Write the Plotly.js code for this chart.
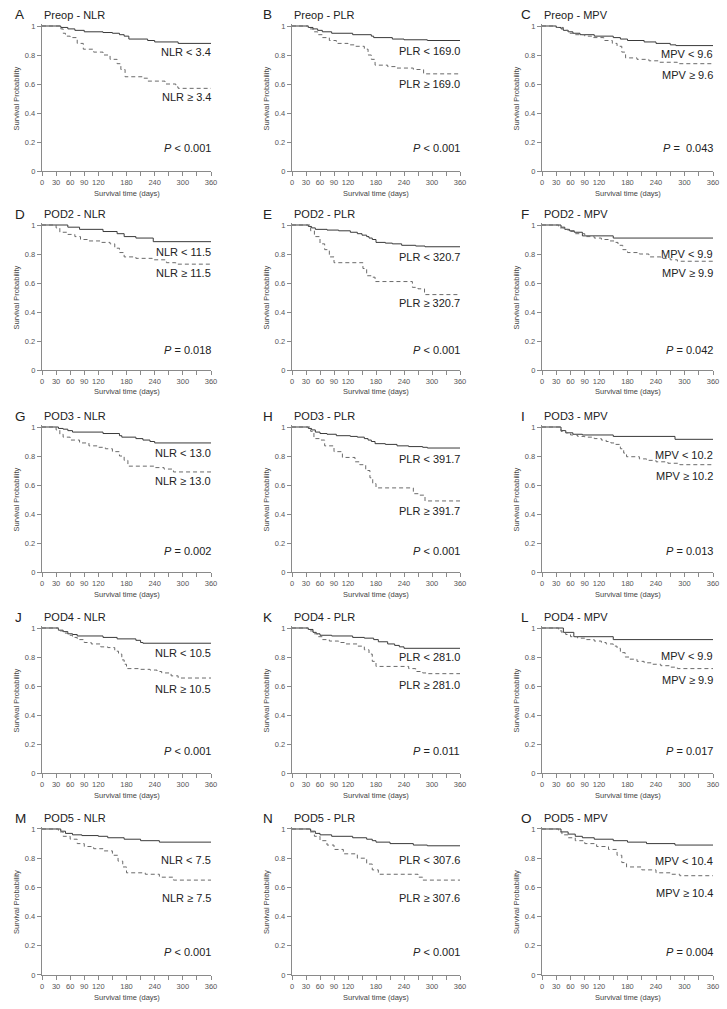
<!DOCTYPE html>
<html><head><meta charset="utf-8">
<script src="https://cdn.plot.ly/plotly-3.0.1.min.js"></script>
<style>html,body{margin:0;padding:0;background:#fff;}#chart{width:727px;height:1009px;}</style>
</head><body><div id="chart"></div>
<script>
// ---------- DATA: [time (days), survival probability] step points ----------
const A_low  = [[0,1],[40,0.99],[55,0.98],[70,0.97],[90,0.96],[130,0.955],[150,0.95],[165,0.94],[175,0.93],[185,0.91],[225,0.90],[240,0.89],[290,0.88],[360,0.88]];
const A_high = [[0,1],[40,0.98],[45,0.95],[50,0.93],[60,0.92],[75,0.88],[88,0.84],[110,0.82],[130,0.80],[145,0.77],[160,0.74],[168,0.70],[177,0.65],[215,0.64],[225,0.62],[262,0.60],[285,0.58],[290,0.57],[360,0.57]];
const B_low  = [[0,1],[35,0.99],[45,0.98],[55,0.97],[65,0.96],[85,0.95],[130,0.94],[170,0.93],[175,0.92],[215,0.91],[240,0.905],[290,0.90],[360,0.90]];
const B_high = [[0,1],[35,0.98],[45,0.96],[55,0.94],[65,0.92],[80,0.90],[95,0.88],[120,0.87],[135,0.86],[155,0.84],[163,0.80],[170,0.77],[178,0.73],[205,0.72],[225,0.71],[260,0.70],[282,0.67],[360,0.67]];
const C_low  = [[0,1],[30,0.99],[40,0.98],[45,0.97],[55,0.96],[65,0.95],[80,0.94],[110,0.93],[150,0.92],[165,0.91],[180,0.90],[215,0.89],[240,0.88],[270,0.87],[282,0.865],[360,0.865]];
const C_high = [[0,1],[30,0.99],[45,0.97],[55,0.95],[70,0.94],[90,0.93],[105,0.92],[130,0.90],[148,0.88],[158,0.86],[168,0.82],[176,0.78],[200,0.77],[225,0.76],[245,0.75],[285,0.74],[360,0.74]];
const D_low  = [[0,1],[55,0.985],[80,0.97],[130,0.955],[160,0.94],[175,0.92],[200,0.91],[237,0.885],[360,0.885]];
const D_high = [[0,1],[30,0.98],[38,0.95],[55,0.935],[70,0.92],[82,0.90],[100,0.89],[125,0.88],[145,0.87],[155,0.84],[165,0.81],[175,0.78],[200,0.77],[235,0.76],[265,0.74],[285,0.73],[360,0.73]];
const E_low  = [[0,1],[35,0.99],[42,0.98],[50,0.97],[75,0.965],[100,0.96],[125,0.95],[140,0.94],[150,0.93],[160,0.92],[165,0.91],[172,0.90],[180,0.88],[200,0.875],[215,0.87],[235,0.86],[265,0.855],[285,0.85],[360,0.85]];
const E_high = [[0,1],[40,0.96],[48,0.92],[60,0.87],[70,0.83],[80,0.78],[90,0.74],[152,0.70],[160,0.65],[170,0.64],[178,0.61],[258,0.57],[270,0.56],[284,0.52],[360,0.52]];
const F_low  = [[0,1],[40,0.985],[48,0.97],[58,0.96],[68,0.95],[85,0.925],[150,0.91],[360,0.91]];
const F_high = [[0,1],[35,0.98],[45,0.97],[55,0.955],[70,0.94],[90,0.92],[110,0.91],[125,0.90],[140,0.89],[152,0.88],[160,0.86],[170,0.83],[180,0.81],[205,0.80],[225,0.78],[250,0.77],[270,0.76],[285,0.75],[360,0.75]];
const G_low  = [[0,1],[35,0.99],[45,0.985],[55,0.975],[65,0.965],[130,0.955],[165,0.94],[170,0.93],[200,0.92],[215,0.91],[230,0.90],[240,0.89],[360,0.89]];
const G_high = [[0,1],[30,0.98],[38,0.95],[45,0.93],[60,0.91],[80,0.89],[100,0.87],[120,0.86],[135,0.85],[150,0.83],[165,0.80],[175,0.77],[183,0.73],[240,0.72],[260,0.71],[280,0.69],[360,0.69]];
const H_low  = [[0,1],[35,0.99],[42,0.98],[50,0.965],[60,0.955],[75,0.95],[95,0.94],[125,0.935],[140,0.93],[155,0.92],[163,0.91],[170,0.90],[178,0.885],[200,0.88],[225,0.87],[250,0.865],[280,0.86],[290,0.855],[360,0.855]];
const H_high = [[0,1],[40,0.97],[47,0.92],[60,0.91],[70,0.87],[90,0.83],[108,0.79],[135,0.76],[145,0.74],[158,0.70],[167,0.65],[173,0.61],[180,0.58],[260,0.54],[273,0.53],[285,0.49],[360,0.49]];
const I_low  = [[0,1],[40,0.975],[50,0.96],[65,0.95],[85,0.945],[150,0.935],[280,0.915],[360,0.915]];
const I_high = [[0,1],[40,0.97],[50,0.96],[60,0.945],[75,0.935],[90,0.93],[110,0.92],[125,0.91],[135,0.90],[145,0.89],[155,0.88],[165,0.85],[172,0.82],[178,0.795],[205,0.78],[220,0.77],[240,0.76],[265,0.75],[290,0.74],[360,0.74]];
const J_low  = [[0,1],[35,0.985],[45,0.975],[55,0.96],[65,0.955],[75,0.945],[130,0.935],[160,0.925],[200,0.915],[210,0.90],[215,0.895],[360,0.895]];
const J_high = [[0,1],[35,0.98],[45,0.965],[55,0.95],[65,0.935],[75,0.92],[90,0.90],[105,0.89],[125,0.87],[140,0.865],[155,0.84],[163,0.82],[170,0.78],[175,0.75],[180,0.72],[210,0.715],[230,0.71],[245,0.70],[255,0.69],[275,0.67],[290,0.655],[360,0.655]];
const K_low  = [[0,1],[35,0.99],[45,0.97],[52,0.96],[60,0.95],[85,0.945],[130,0.935],[155,0.93],[175,0.92],[185,0.905],[205,0.89],[220,0.88],[230,0.87],[240,0.86],[360,0.86]];
const K_high = [[0,1],[35,0.98],[45,0.96],[55,0.94],[65,0.92],[80,0.91],[100,0.90],[115,0.89],[140,0.875],[155,0.85],[165,0.82],[172,0.77],[180,0.735],[250,0.72],[265,0.70],[280,0.69],[290,0.685],[360,0.685]];
const L_low  = [[0,1],[45,0.97],[67,0.94],[150,0.92],[360,0.92]];
const L_high = [[0,1],[35,0.98],[42,0.965],[50,0.955],[60,0.94],[75,0.93],[90,0.92],[110,0.91],[125,0.90],[135,0.89],[150,0.875],[158,0.86],[165,0.83],[175,0.80],[185,0.785],[200,0.77],[215,0.76],[230,0.75],[250,0.74],[270,0.73],[285,0.72],[360,0.72]];
const M_low  = [[0,1],[40,0.985],[50,0.97],[65,0.96],[85,0.955],[120,0.95],[140,0.94],[175,0.93],[210,0.92],[250,0.91],[360,0.91]];
const M_high = [[0,1],[35,0.98],[45,0.95],[60,0.93],[75,0.90],[90,0.88],[110,0.865],[130,0.85],[150,0.82],[162,0.78],[172,0.74],[180,0.70],[220,0.69],[250,0.67],[280,0.65],[360,0.65]];
const N_low  = [[0,1],[40,0.985],[50,0.97],[60,0.96],[85,0.95],[130,0.94],[160,0.93],[172,0.92],[180,0.91],[210,0.90],[260,0.89],[290,0.885],[360,0.885]];
const N_high = [[0,1],[38,0.98],[48,0.95],[60,0.92],[75,0.89],[90,0.86],[110,0.83],[140,0.80],[160,0.76],[172,0.72],[185,0.69],[270,0.67],[280,0.65],[360,0.65]];
const O_low  = [[0,1],[40,0.98],[55,0.965],[70,0.95],[85,0.94],[110,0.93],[150,0.92],[180,0.91],[220,0.90],[280,0.89],[360,0.89]];
const O_high = [[0,1],[35,0.98],[42,0.96],[55,0.94],[70,0.92],[90,0.90],[115,0.88],[140,0.86],[158,0.82],[168,0.77],[178,0.74],[210,0.72],[240,0.70],[270,0.69],[290,0.68],[360,0.68]];

const letters  = ['A','B','C','D','E','F','G','H','I','J','K','L','M','N','O'];
const rowNames = ['Preop','POD2','POD3','POD4','POD5'];
const colNames = ['NLR','PLR','MPV'];
const cutoffs  = ['3.4','169.0','9.6','11.5','320.7','9.9','13.0','391.7','10.2','10.5','281.0','9.9','7.5','307.6','10.4'];
const pTexts   = ['&lt; 0.001','&lt; 0.001','=\u00a0\u00a00.043','= 0.018','&lt; 0.001','= 0.042','= 0.002','&lt; 0.001','= 0.013','&lt; 0.001','= 0.011','= 0.017','&lt; 0.001','&lt; 0.001','= 0.004'];
const lowCurves  = [A_low,B_low,C_low,D_low,E_low,F_low,G_low,H_low,I_low,J_low,K_low,L_low,M_low,N_low,O_low];
const highCurves = [A_high,B_high,C_high,D_high,E_high,F_high,G_high,H_high,I_high,J_high,K_high,L_high,M_high,N_high,O_high];
const xTickVals = [0,30,60,90,120,150,180,210,240,270,300,330,360];
const xTickText = ['0','30','60','90','120','','180','','240','','300','','360'];
const yTickVals = [0,0.2,0.4,0.6,0.8,1];
const yTickText = ['0','0.2','0.4','0.6','0.8','1'];

// ---------- LAYOUT (positions in px) ----------
const W = 727, H = 1009;
const colLeft = [42, 292, 542], colRight = [211, 460, 713];
const letterX = [13, 261, 519];
const rowTop = [26, 225, 427, 628, 829], rowBottom = [171, 370, 572, 773, 975];
const lowY  = [0.82,0.83,0.805,0.815,0.78,0.80,0.82,0.78,0.805,0.83,0.80,0.805,0.79,0.79,0.78];
const highY = [0.51,0.60,0.66,0.67,0.46,0.67,0.63,0.42,0.66,0.58,0.61,0.64,0.53,0.53,0.56];
const pY    = [0.16,0.16,0.16,0.135,0.135,0.135,0.145,0.145,0.145,0.15,0.15,0.15,0.16,0.16,0.16];

const FONT = 'Liberation Sans, Arial, Helvetica, sans-serif';
const YMAX = 1.012;
const LABEL_XD = 364 / 360;
const traces = [], annotations = [];
const layout = {
  width: W, height: H, margin: {l:0, r:0, t:0, b:0},
  paper_bgcolor: '#fff', plot_bgcolor: '#fff', showlegend: false,
  font: {family: FONT, color: '#333'}
};
const px = x => x / W, py = y => 1 - y / H;

for (let i = 0; i < 15; i++) {
  const r = Math.floor(i / 3), c = i % 3;
  const n = i + 1, sx = n === 1 ? '' : String(n);
  const xa = 'x' + sx, ya = 'y' + sx;
  const topPx = rowTop[r] - (YMAX - 1) * (rowBottom[r] - rowTop[r]);
  layout['xaxis' + sx] = {
    domain: [px(colLeft[c]), px(colRight[c])], anchor: ya, range: [0, 360],
    tickmode: 'array', tickvals: xTickVals, ticktext: xTickText,
    showline: true, linecolor: '#8a8a8a', linewidth: 1.2, ticks: 'outside', ticklen: 4,
    tickcolor: '#8a8a8a', tickwidth: 1, showgrid: false, zeroline: false,
    tickfont: {size: 7.5, color: '#555', family: FONT}, fixedrange: true
  };
  layout['yaxis' + sx] = {
    domain: [py(rowBottom[r]), py(topPx)], anchor: xa, range: [0, YMAX],
    tickmode: 'array', tickvals: yTickVals, ticktext: yTickText,
    showline: true, linecolor: '#8a8a8a', linewidth: 1.2, ticks: 'outside', ticklen: 4,
    tickcolor: '#8a8a8a', tickwidth: 1, showgrid: false, zeroline: false,
    tickfont: {size: 7.5, color: '#555', family: FONT}, fixedrange: true
  };
  traces.push({
    x: lowCurves[i].map(p => p[0]), y: lowCurves[i].map(p => p[1]), xaxis: xa, yaxis: ya,
    type: 'scatter', mode: 'lines', line: {shape: 'hv', color: '#3a3a3a', width: 1}, hoverinfo: 'skip'
  });
  traces.push({
    x: highCurves[i].map(p => p[0]), y: highCurves[i].map(p => p[1]), xaxis: xa, yaxis: ya,
    type: 'scatter', mode: 'lines', line: {shape: 'hv', color: '#6a6a6a', width: 1, dash: '4px,3px'}, hoverinfo: 'skip'
  });
  const rowMid = rowTop[r] - 11;
  const xd = xa + ' domain', yd = ya + ' domain';
  annotations.push({xref:'paper', yref:'paper', x: px(letterX[c]), y: py(rowMid), xanchor:'left', yanchor:'middle',
    text: letters[i], showarrow:false, font:{size:13.5, color:'#222', family: FONT}});
  annotations.push({xref:'paper', yref:'paper', x: px(colLeft[c]), y: py(rowMid), xanchor:'left', yanchor:'middle',
    text: rowNames[r] + ' - ' + colNames[c], showarrow:false, font:{size:11, color:'#222', family: FONT}});
  annotations.push({xref: xd, yref: yd, x: LABEL_XD, y: lowY[i] / YMAX, xanchor:'right', yanchor:'middle',
    text: colNames[c] + ' &lt; ' + cutoffs[i], showarrow:false, font:{size:11, color:'#222', family: FONT}});
  annotations.push({xref: xd, yref: yd, x: LABEL_XD, y: highY[i] / YMAX, xanchor:'right', yanchor:'middle',
    text: colNames[c] + ' \u2265 ' + cutoffs[i], showarrow:false, font:{size:11, color:'#222', family: FONT}});
  annotations.push({xref: xd, yref: yd, x: LABEL_XD, y: pY[i] / YMAX, xanchor:'right', yanchor:'middle',
    text: '<i>P</i> ' + pTexts[i], showarrow:false, font:{size:11, color:'#222', family: FONT}});
  annotations.push({xref:'paper', yref:'paper', x: px((colLeft[c] + colRight[c]) / 2), y: py(rowBottom[r] + 22),
    xanchor:'center', yanchor:'middle', text:'Survival time (days)', showarrow:false,
    font:{size:7.5, color:'#444', family: FONT}});
  annotations.push({xref:'paper', yref:'paper', x: px(colLeft[c] - 26), y: py((rowTop[r] + rowBottom[r]) / 2),
    xanchor:'center', yanchor:'middle', textangle: -90, text:'Survival Probability', showarrow:false,
    font:{size:7.5, color:'#444', family: FONT}});
}
layout.annotations = annotations;
Plotly.newPlot('chart', traces, layout, {staticPlot: true, displayModeBar: false});
</script></body></html>
